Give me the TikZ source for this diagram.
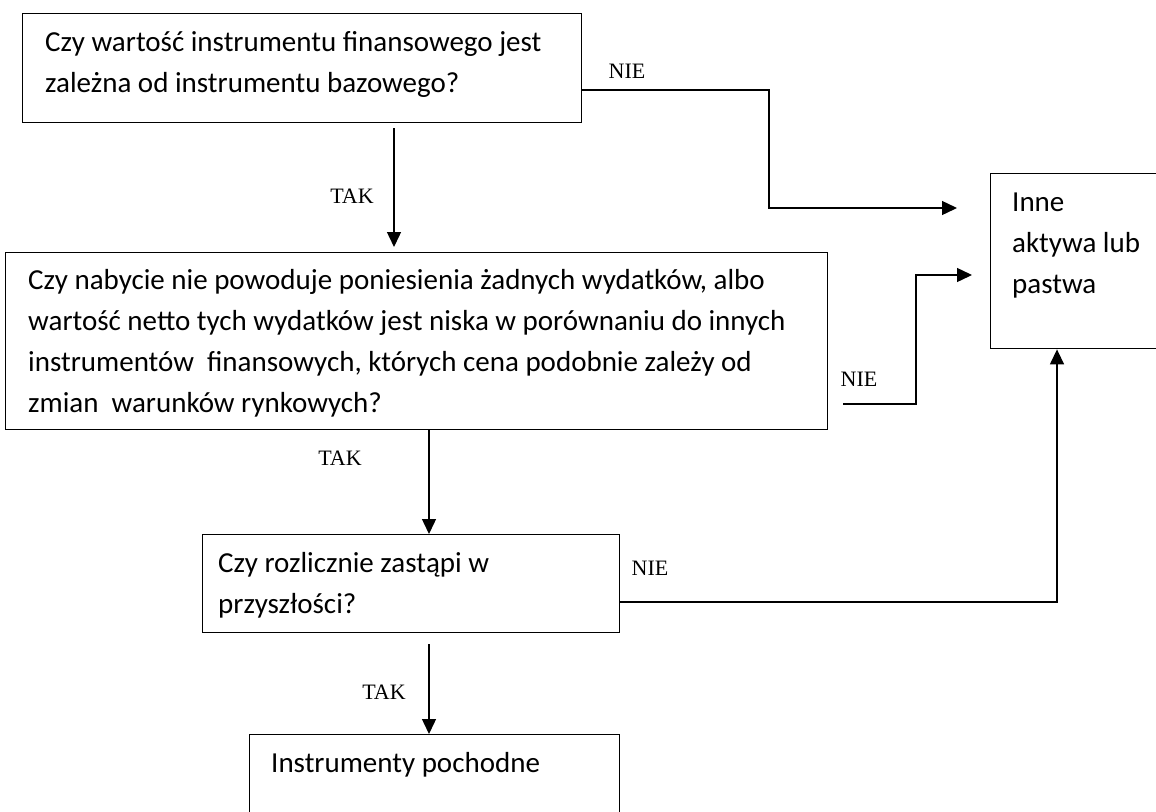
\documentclass[tikz,border=0pt]{standalone}
\usepackage{fontspec}
\setmainfont{Carlito}
\newfontfamily\lblfont{Liberation Serif}
\usetikzlibrary{arrows.meta}
\begin{document}
\begin{tikzpicture}[x=1pt,y=-1pt,
  box/.style={draw, line width=1.4pt, rectangle, inner sep=0pt, anchor=north west},
  txt/.style={anchor=north west, inner sep=0pt, align=left, font=\fontsize{29}{41}\selectfont},
  lbl/.style={inner sep=0pt, font=\lblfont\fontsize{22}{22}\selectfont},
  conn/.style={line width=1.4pt, -{Triangle[length=15pt,width=14pt]}}]
\useasboundingbox (0,0) rectangle (1156,811);
\clip (0,0) rectangle (1156,811);
\fill[white] (0,0) rectangle (1156,811);
% boxes
\node[box, minimum width=559pt, minimum height=109pt] (b1) at (22,13) {};
\node[box, minimum width=822pt, minimum height=177pt] (b2) at (5,252) {};
\node[box, minimum width=180pt, minimum height=175pt] (b3) at (990,173) {};
\node[box, minimum width=417pt, minimum height=98pt] (b4) at (202,534) {};
\node[box, minimum width=370pt, minimum height=95pt] (b5) at (249,734) {};
% texts
\node[txt] (x1) at (45,23) {\strut Czy wartość instrumentu finansowego jest\\ zależna od instrumentu bazowego?};
\node[txt] (x2) at (28,261) {\strut Czy nabycie nie powoduje poniesienia żadnych wydatków, albo\\ wartość netto tych wydatków jest niska w porównaniu do innych\\ instrumentów\ \ finansowych, których cena podobnie zależy od\\ zmian\ \ warunków rynkowych?};
\node[txt] (x3) at (1012,183) {\strut Inne\\ aktywa lub\\ pastwa};
\node[txt] (x4) at (218,544) {\strut Czy rozlicznie zastąpi w\\ przyszłości?};
\node[txt] (x5) at (271,744) {\strut Instrumenty pochodne};
% labels
\node[lbl] (l1) at (627,71) {NIE};
\node[lbl] (l2) at (352,196) {TAK};
\node[lbl] (l3) at (859,379) {NIE};
\node[lbl] (l4) at (340,458) {TAK};
\node[lbl] (l5) at (650,568) {NIE};
\node[lbl] (l6) at (384,692) {TAK};
% helper coordinates
\coordinate (v1) at (394,0);
\coordinate (v2) at (429,0);
\coordinate (n1a) at (769,90);
\coordinate (n1b) at (769,208);
\coordinate (n1t) at (957,208);
\coordinate (n2a) at (916,404);
\coordinate (n2b) at (916,275);
\coordinate (n2t) at (972,275);
\coordinate (n3a) at (1057,602);
% connectors
\draw[conn] (b1.east |- n1a) -- (n1a) -- (n1b) -- (n1t);
\draw[conn] ([yshift=-5pt]b1.south -| v1) -- ([yshift=5pt]b2.north -| v1);
\draw[conn] ([xshift=15pt]b2.east |- n2a) -- (n2a) -- (n2b) -- (n2t);
\draw[conn] (b2.south -| v2) -- (b4.north -| v2);
\draw[conn] (b4.east |- n3a) -- (n3a) -- (b3.south -| n3a);
\draw[conn] ([yshift=-11pt]b4.south -| v2) -- (b5.north -| v2);
\end{tikzpicture}
\end{document}
